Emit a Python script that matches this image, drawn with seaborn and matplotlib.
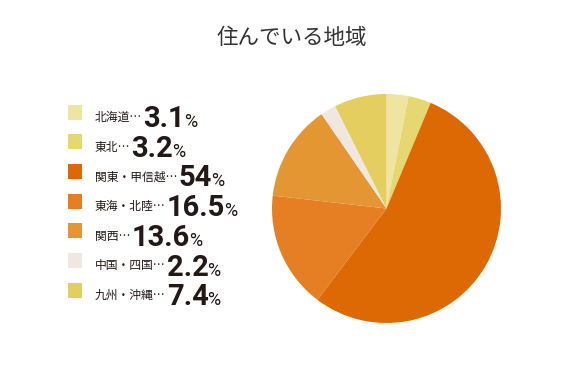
import matplotlib
matplotlib.use("Agg")
import matplotlib.pyplot as plt
from matplotlib.patches import Rectangle
import seaborn as sns

# データ
regions = ["北海道", "東北", "関東・甲信越", "東海・北陸", "関西", "中国・四国", "九州・沖縄"]
shares = [3.1, 3.2, 54, 16.5, 13.6, 2.2, 7.4]
share_labels = ["3.1", "3.2", "54", "16.5", "13.6", "2.2", "7.4"]
colors = ["#EFE4A2", "#E5D870", "#DD6904", "#E67E24", "#E39632", "#F0E7E0", "#E4CE5F"]
title = "住んでいる地域"

sns.set_theme(style="white")
plt.rcParams['font.family'] = ['Noto Sans CJK JP', 'DejaVu Sans']

W, H = 585, 387
fig = plt.figure(figsize=(W / 100, H / 100), dpi=100)
fig.patch.set_facecolor("white")
ink = "#231815"


def fx(px):
    return px / W


def fy(py):
    return 1 - py / H


# 円グラフ
cx, cy, r = 386.5, 208.5, 114.5
ax = fig.add_axes([fx(cx - r), fy(cy + r), 2 * r / W, 2 * r / H])
ax.pie(shares, colors=colors, startangle=90, counterclock=False,
       wedgeprops=dict(linewidth=0))
ax.set_xlim(-1, 1)
ax.set_ylim(-1, 1)
ax.set_aspect("auto")
ax.axis("off")

# タイトル
fig.text(fx(292), fy(38), title, ha="center", va="center",
         fontsize=15.5, color="#333333")

# 凡例
renderer = fig.canvas.get_renderer()
base0, step = 127, 29.7
for i, (name, lab, c) in enumerate(zip(regions, share_labels, colors)):
    base = base0 + step * i
    fig.patches.append(Rectangle((fx(68), fy(base - 7.5)), 14 / W, 15 / H,
                                 transform=fig.transFigure, facecolor=c,
                                 edgecolor="none"))
    t1 = fig.text(fx(95), fy(base - 6), name + "…", ha="left", va="baseline",
                  fontsize=8.5, color=ink)
    x1 = t1.get_window_extent(renderer).x1 + 1
    t2 = fig.text(x1 / W, fy(base), lab, ha="left", va="baseline",
                  fontsize=21, fontweight="bold", color=ink,
                  family=["Roboto", "DejaVu Sans"])
    x2 = t2.get_window_extent(renderer).x1 - 1
    fig.text(x2 / W, fy(base), "%", ha="left", va="baseline",
             fontsize=13, color=ink, family=["Roboto", "DejaVu Sans"])

fig.savefig("out.png", dpi=100)
